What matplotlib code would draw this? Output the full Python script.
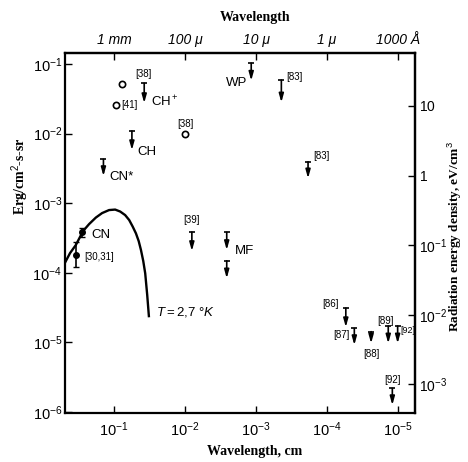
import matplotlib
matplotlib.use("Agg")
import matplotlib.pyplot as plt

plt.rcParams['font.family'] = ['Liberation Sans', 'DejaVu Sans']
plt.rcParams['mathtext.fontset'] = 'custom'
plt.rcParams['mathtext.rm'] = 'Liberation Sans'
plt.rcParams['mathtext.it'] = 'Liberation Sans:italic'

# blackbody curve T = 2.7 K
cmb_wl = [0.493, 0.419, 0.347, 0.274, 0.2254, 0.181, 0.148, 0.118, 0.0968, 0.0822,
          0.0700, 0.0614, 0.0548, 0.0493, 0.0451, 0.0419, 0.0389, 0.0365, 0.0342, 0.0324]
cmb_I = [1.40e-4, 1.92e-4, 2.51e-4, 3.99e-4, 5.02e-4, 6.23e-4, 7.22e-4, 7.98e-4, 8.11e-4, 7.60e-4,
         6.76e-4, 5.74e-4, 4.62e-4, 3.69e-4, 2.86e-4, 2.13e-4, 1.48e-4, 9.84e-5, 4.80e-5, 2.39e-5]

# measurements with error bars
meas_wl = [0.281, 0.347]
meas_I = [3.82e-4, 1.80e-4]
meas_lo = [3.30e-4, 1.22e-4]
meas_hi = [4.45e-4, 2.80e-4]

# open circles
circ_wl = [0.0763, 0.0928, 0.0100]
circ_I = [0.0509, 0.0255, 0.0098]

# upper limits: top of bar and tip of arrow
lim_wl = [0.0377, 0.0562, 0.1416, 8.03e-3, 2.59e-3, 2.59e-3, 1.17e-3, 4.40e-4, 1.85e-4,
          5.43e-5, 4.12e-5, 2.39e-5, 1.37e-5, 1.01e-5, 1.20e-5]
lim_top = [0.0528, 0.0109, 4.28e-3, 3.85e-4, 3.82e-4, 1.49e-4, 0.1026, 0.0589, 3.94e-3,
           3.12e-5, 1.59e-5, 1.43e-5, 1.72e-5, 1.72e-5, 2.19e-6]
lim_tip = [0.0275, 0.0058, 2.46e-3, 2.06e-4, 2.13e-4, 8.34e-5, 0.0577, 0.0281, 2.28e-3,
           1.66e-5, 9.18e-6, 9.70e-6, 9.70e-6, 9.70e-6, 1.26e-6]

fig = plt.figure(figsize=(4.68, 4.62), dpi=100)
ax = fig.add_axes([65/468, 1-413/462, 350/468, 360/462])
ax.set_xscale('log')
ax.set_yscale('log')
ax.set_xlim(0.493, 5.75e-6)
ax.set_ylim(9.7e-7, 0.144)

ax.plot(cmb_wl, cmb_I, color='black', lw=1.7)
ax.errorbar(meas_wl, meas_I, yerr=[[m - l for m, l in zip(meas_I, meas_lo)],
                                    [h - m for m, h in zip(meas_I, meas_hi)]],
            fmt='o', ms=4, color='black', ecolor='black', elinewidth=1.2, capsize=2)
ax.plot(circ_wl, circ_I, 'o', ms=4.5, mfc='white', mec='black', mew=1.2)

for x, t, b in zip(lim_wl, lim_top, lim_tip):
    ax.annotate('', xy=(x, b), xytext=(x, t),
                arrowprops=dict(arrowstyle='-|>,head_length=0.5,head_width=0.14',
                                lw=1.2, color='black', shrinkA=0, shrinkB=0))
    ax.plot([x], [t], marker='_', ms=5, mew=1.2, color='black')

def lab(text, x, y, dx, dy, ha='center', fs=7):
    ax.annotate(text, xy=(x, y), xytext=(dx, dy), textcoords='offset pixels',
                ha=ha, va='center', fontsize=fs)

lab('[38]', lim_wl[0], lim_top[0], -1, 9)
lab('CH$^+$', lim_wl[0], lim_top[0], 7, -18, ha='left', fs=9.5)
lab('[41]', circ_wl[1], circ_I[1], 5, 0, ha='left')
lab('[38]', circ_wl[2], circ_I[2], 0, 10)
lab('CH', lim_wl[1], lim_top[1], 5, -21, ha='left', fs=9.5)
lab('CN*', lim_wl[2], lim_top[2], 6, -18, ha='left', fs=9.5)
lab('CN', meas_wl[0], meas_I[0], 9, -3, ha='left', fs=9.5)
lab('[30,31]', meas_wl[1], meas_I[1], 8, -2, ha='left')
lab('[39]', lim_wl[3], lim_top[3], 0, 12)
lab('MF', lim_wl[4], lim_top[4], 8, -19, ha='left', fs=9.5)
lab('WP', lim_wl[6], lim_top[6], -4, -20, ha='right', fs=9.5)
lab('[83]', lim_wl[7], lim_top[7], 5, 3, ha='left')
lab('[83]', lim_wl[8], lim_top[8], 5, 6, ha='left')
lab('[86]', lim_wl[9], lim_top[9], -15, 4)
lab('[87]', lim_wl[10], lim_top[10], -13, -7)
lab('[88]', lim_wl[11], lim_top[11], 0, -22)
lab('[89]', lim_wl[12], lim_top[12], -3, 5)
lab('[92]', lim_wl[13], lim_top[13], 3, -4, ha='left', fs=6.5)
lab('[92]', lim_wl[14], lim_top[14], 0, 8)
ax.annotate('$\\mathit{T = 2{,}7\\ °K}$', xy=(cmb_wl[-1], cmb_I[-1]), xytext=(7, 4),
            textcoords='offset pixels', ha='left', va='center', fontsize=9.5)

for s in ax.spines.values():
    s.set_linewidth(1.6)

bx = [1e-1, 1e-2, 1e-3, 1e-4, 1e-5]
ax.set_xticks(bx, ['$\\mathit{10^{-%d}}$' % k for k in range(1, 6)])
by = [1e-1, 1e-2, 1e-3, 1e-4, 1e-5, 1e-6]
ax.set_yticks(by, ['$\\mathit{10^{-%d}}$' % k for k in range(1, 7)])
ax.tick_params(direction='in', length=5, width=1, labelsize=10.5)
ax.tick_params(axis='x', pad=5)
ax.tick_params(axis='y', pad=2)
ax.minorticks_off()

top = ax.secondary_xaxis('top', functions=(lambda v: v, lambda v: v))
top.set_xticks(bx, ['1 mm', '100 μ', '10 μ', '1 μ', '1000 Å'])
top.minorticks_off()
top.tick_params(direction='in', length=5, width=1, labelsize=10, pad=4)
for t in top.get_xticklabels():
    t.set_fontstyle('italic')
top.spines['top'].set_linewidth(1.6)

right = ax.secondary_yaxis('right', functions=(lambda v: v * 400, lambda v: v / 400))
right.set_yticks([10, 1, 0.1, 0.01, 0.001],
                 ['$\\mathit{10}$', '$\\mathit{1}$', '$\\mathit{10^{-1}}$',
                  '$\\mathit{10^{-2}}$', '$\\mathit{10^{-3}}$'])
right.minorticks_off()
right.tick_params(direction='in', length=5, width=1, labelsize=10, pad=3)
right.spines['right'].set_linewidth(1.6)

serif = ['Liberation Serif', 'DejaVu Serif']
fig.text(255/468, 1-18/462, 'Wavelength', ha='center', va='center',
         fontsize=10, fontweight='bold', family=serif)
fig.text(255/468, 1-451/462, 'Wavelength, cm', ha='center', va='center',
         fontsize=10, fontweight='bold', family=serif)
fig.text(20/468, 1-176/462, 'Erg/cm$^2$-s-sr', ha='center', va='center',
         rotation=90, fontsize=10, fontweight='bold', family=serif)
fig.text(455/468, 1-237/462, 'Radiation energy density, eV/cm$^3$', ha='center',
         va='center', rotation=90, fontsize=9.5, fontweight='bold', family=serif)

fig.savefig('out.png', dpi=100)
